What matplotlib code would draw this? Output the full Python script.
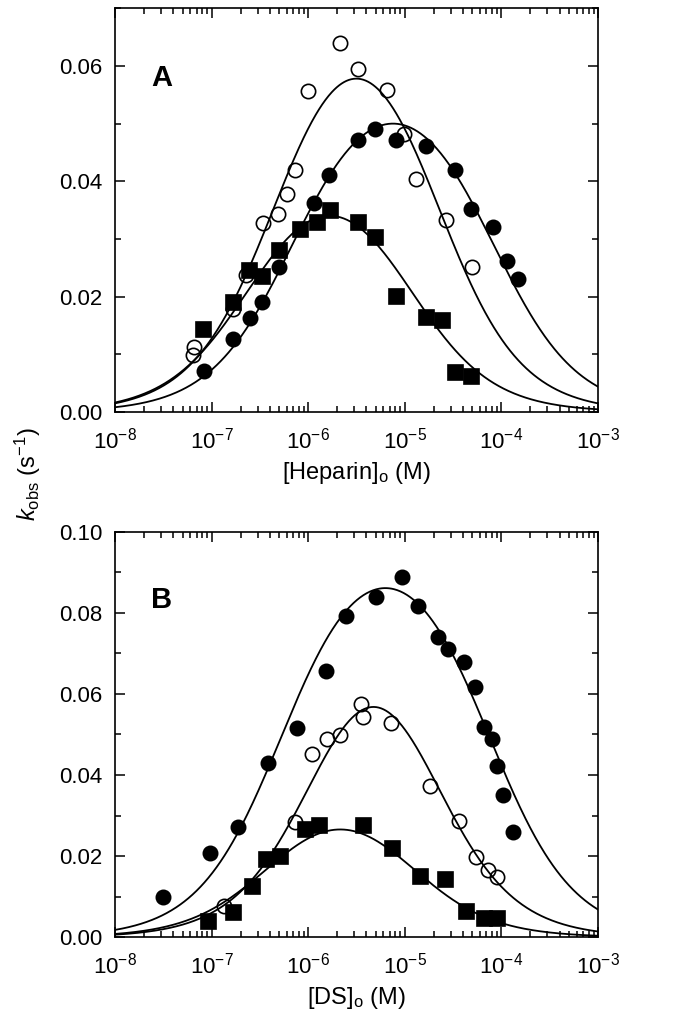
import numpy as np
import matplotlib
matplotlib.use('Agg')
import matplotlib.pyplot as plt
from matplotlib.ticker import LogLocator, MultipleLocator, NullFormatter, FuncFormatter

plt.rcParams['font.family'] = ['Liberation Sans', 'DejaVu Sans']
plt.rcParams['mathtext.fontset'] = 'custom'
plt.rcParams['mathtext.rm'] = 'Liberation Sans'
plt.rcParams['mathtext.it'] = 'Liberation Sans:italic'
plt.rcParams['mathtext.bf'] = 'Liberation Sans:bold'

# ---------------- Panel A : heparin ----------------
a_open_x = [6.6e-8, 6.4e-8, 1.65e-7, 2.25e-7, 3.4e-7, 4.9e-7, 6.1e-7, 7.3e-7, 1.0e-6,
            2.13e-6, 3.29e-6, 6.56e-6, 9.8e-6, 1.32e-5, 2.65e-5, 5.0e-5]
a_open_y = [0.0113, 0.0098, 0.0179, 0.0237, 0.0327, 0.0344, 0.0378, 0.0420, 0.0557,
            0.0639, 0.0595, 0.0559, 0.0482, 0.0404, 0.0333, 0.0252]

a_fill_x = [8.3e-8, 1.65e-7, 2.5e-7, 3.3e-7, 4.98e-7, 1.15e-6, 1.64e-6, 3.29e-6, 4.9e-6,
            8.2e-6, 1.64e-5, 3.29e-5, 4.9e-5, 8.2e-5, 1.15e-4, 1.49e-4]
a_fill_y = [0.0071, 0.0127, 0.0163, 0.0191, 0.0252, 0.0362, 0.0411, 0.0471, 0.0490,
            0.0471, 0.0462, 0.0420, 0.0352, 0.0321, 0.0261, 0.0230]

a_sq_x = [8.2e-8, 1.65e-7, 2.43e-7, 3.29e-7, 4.98e-7, 8.2e-7, 1.22e-6, 1.67e-6, 3.29e-6,
          4.9e-6, 8.2e-6, 1.64e-5, 2.45e-5, 3.29e-5, 4.9e-5]
a_sq_y = [0.0144, 0.0191, 0.0246, 0.0236, 0.0281, 0.0317, 0.0330, 0.0351, 0.0330,
          0.0304, 0.0201, 0.0165, 0.0159, 0.0069, 0.0062]

# fitted bell-shaped curves: kmax, K1, K2
a_fit_open = [0.078, 5.1e-7, 1.95e-5]
a_fit_fill = [0.060, 7.2e-7, 7.9e-5]
a_fit_sq = [0.046, 2.7e-7, 1.02e-5]

# ---------------- Panel B : dermatan sulfate ----------------
b_fill_x = [3.16e-8, 9.6e-8, 1.89e-7, 3.85e-7, 7.7e-7, 1.52e-6, 2.49e-6, 5.0e-6, 9.4e-6,
            1.38e-5, 2.21e-5, 2.81e-5, 4.11e-5, 5.35e-5, 6.56e-5, 7.9e-5, 9.1e-5, 1.04e-4, 1.32e-4]
b_fill_y = [0.0099, 0.0207, 0.0273, 0.0429, 0.0517, 0.0656, 0.0793, 0.0839, 0.0889,
            0.0816, 0.0741, 0.0710, 0.0679, 0.0618, 0.0519, 0.0489, 0.0423, 0.0351, 0.0259]

b_open_x = [1.35e-7, 7.3e-7, 1.1e-6, 1.58e-6, 2.16e-6, 3.51e-6, 3.71e-6, 7.28e-6, 1.82e-5,
            3.62e-5, 5.5e-5, 7.28e-5, 9.1e-5]
b_open_y = [0.0077, 0.0283, 0.0452, 0.0490, 0.0499, 0.0575, 0.0544, 0.0529, 0.0374,
            0.0287, 0.0199, 0.0166, 0.0149]

b_sq_x = [9.2e-8, 1.67e-7, 2.6e-7, 3.62e-7, 5.1e-7, 9.2e-7, 1.29e-6, 3.65e-6, 7.4e-6,
          1.45e-5, 2.59e-5, 4.35e-5, 6.6e-5, 9.1e-5]
b_sq_y = [0.0041, 0.0062, 0.0127, 0.0192, 0.0201, 0.0267, 0.0277, 0.0277, 0.0219,
          0.0152, 0.0144, 0.0066, 0.0047, 0.0047]

b_fit_fill = [0.1018, 5.5e-7, 7.2e-5]
b_fit_open = [0.100, 1.55e-6, 1.45e-5]
b_fit_sq = [0.0395, 4.7e-7, 9.8e-6]

xlim = (1e-8, 1e-3)


def bell(H, p):
    kmax, K1, K2 = p
    return kmax * H * K2 / ((K1 + H) * (K2 + H))


def logfmt(v, pos):
    e = int(round(np.log10(v)))
    return r'$\mathregular{10^{%d}}$' % e


fig = plt.figure(figsize=(6.99, 10.31), dpi=100)
axA = fig.add_axes([0.1645, 0.6004, 0.691, 0.3916])
axB = fig.add_axes([0.1645, 0.0909, 0.691, 0.3934])

H = np.logspace(-8, -3, 600)
ms = 10.3
lw = 1.3

for ax, fits, series, ymax, xlabel, letter, ly in [
    (axA, [a_fit_open, a_fit_fill, a_fit_sq],
     [(a_open_x, a_open_y, 'o', 'none'), (a_fill_x, a_fill_y, 'o', 'k'), (a_sq_x, a_sq_y, 's', 'k')],
     0.07, r'[Heparin]$_\mathregular{o}$ (M)', 'A', 0.827),
    (axB, [b_fit_fill, b_fit_open, b_fit_sq],
     [(b_fill_x, b_fill_y, 'o', 'k'), (b_open_x, b_open_y, 'o', 'none'), (b_sq_x, b_sq_y, 's', 'k')],
     0.10, r'[DS]$_\mathregular{o}$ (M)', 'B', 0.832),
]:
    for p in fits:
        ax.plot(H, bell(H, p), color='k', lw=lw, zorder=2)
    for x, y, m, fc in series:
        ax.plot(x, y, linestyle='none', marker=m, ms=ms if m == 'o' else ms + 0.5,
                mfc=fc, mec='k', mew=1.2, zorder=3)
    ax.set_xscale('log')
    ax.set_xlim(*xlim)
    ax.set_ylim(0, ymax)
    ax.xaxis.set_major_locator(LogLocator(base=10, numticks=10))
    ax.xaxis.set_minor_locator(LogLocator(base=10, subs=np.arange(2, 10), numticks=20))
    ax.xaxis.set_major_formatter(FuncFormatter(logfmt))
    ax.xaxis.set_minor_formatter(NullFormatter())
    ax.yaxis.set_major_locator(MultipleLocator(0.02))
    ax.yaxis.set_minor_locator(MultipleLocator(0.01))
    ax.yaxis.set_major_formatter(FuncFormatter(lambda v, pos: '%.2f' % v))
    ax.tick_params(which='both', direction='in', top=True, right=True, colors='k',
                   labelsize=16, width=1.1)
    ax.tick_params(which='major', length=7, pad=9)
    ax.tick_params(axis='x', which='major', pad=11)
    ax.tick_params(which='minor', length=4.5)
    for s in ax.spines.values():
        s.set_linewidth(1.2)
    ax.set_xlabel(xlabel, fontsize=17, labelpad=5)
    ax.text(0.097, ly, letter, transform=ax.transAxes, fontsize=21,
            fontweight='bold', ha='center', va='center')

fig.text(0.040, 0.540, r'$k_\mathregular{obs}$ (s$^\mathregular{-1}$)', rotation=90,
         fontsize=17, ha='center', va='center')

fig.savefig('out.png', dpi=100, facecolor='white')
